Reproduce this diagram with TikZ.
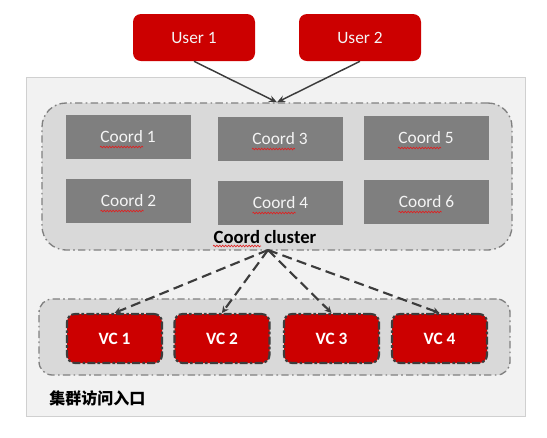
\documentclass[tikz,border=0pt]{standalone}
\usepackage{fontspec}
\setmainfont{Carlito}
\newfontfamily\cjk{Noto Sans CJK SC}
\usepackage{xcolor}
\usepackage{tikz}
\usetikzlibrary{arrows.meta, positioning, decorations.pathmorphing}

\definecolor{userred}{HTML}{CC0000}
\definecolor{coordgray}{HTML}{7F7F7F}
\definecolor{groupfill}{HTML}{D9D9D9}
\definecolor{groupline}{HTML}{808080}
\definecolor{framefill}{HTML}{F2F2F2}
\definecolor{frameline}{HTML}{D0D0D0}
\definecolor{darkline}{HTML}{3C3C3C}
\definecolor{paletext}{HTML}{F4F4F4}
\definecolor{wavered}{HTML}{E02020}

\tikzset{
  userbox/.style={fill=userred, rounded corners=6pt, minimum width=91.5pt, minimum height=35.25pt, inner sep=0pt, text=paletext, font=\fontsize{13}{15}\selectfont},
  coordbox/.style={fill=coordgray, minimum width=93.75pt, minimum height=33pt, inner sep=0pt, text=paletext, font=\fontsize{13}{15}\selectfont},
  vcbox/.style={fill=userred, draw=darkline, line width=1.6pt, dash pattern=on 6pt off 1.6pt on 2pt off 1.6pt, rounded corners=6pt, minimum width=71.25pt, minimum height=36.75pt, inner sep=0pt, text=white, font=\bfseries\fontsize{13}{15}\selectfont},
  groupbox/.style={fill=groupfill, draw=groupline, line width=1pt, dash pattern=on 5.5pt off 2.5pt on 1.2pt off 2.5pt, inner sep=0pt},
  userlink/.style={draw=darkline, line width=1.1pt, -{Stealth[length=6pt,width=5pt]}},
  vclink/.style={draw=darkline, line width=1.6pt, dash pattern=on 7.5pt off 4pt, -{Stealth[length=5pt,width=5pt]}},
  spellwave/.style={draw=wavered, line width=0.5pt, decorate, decoration={snake, amplitude=0.6pt, segment length=2.2pt}},
}

\begin{document}
\begin{tikzpicture}[x=0.75pt,y=0.75pt,yscale=-1,xscale=1]
\useasboundingbox (0,0) rectangle (547,437);

%Shape: Rectangle [id:frame]
\node[fill=framefill, draw=frameline, line width=0.6pt, minimum width=374.25pt, minimum height=254.25pt, inner sep=0pt] (frame) at (275.5,246.5) {};

%Shape: Rounded Rect [id:cluster]
\node[groupbox, rounded corners=18pt, minimum width=352.5pt, minimum height=110.25pt] (cluster) at (277,176.5) {};
%Shape: Rounded Rect [id:vcgroup]
\node[groupbox, rounded corners=10pt, minimum width=353.25pt, minimum height=57pt] (vcgroup) at (274.5,337) {};

%Shape: Users
\node[userbox] (user1) at (194,37.5) {User 1};
\node[userbox] (user2) at (360,37.5) {User 2};

%Shape: Coord boxes
\node[coordbox] (coord1) at (128,137) {Coord 1};
\node[coordbox] (coord2) at (128.5,201) {Coord 2};
\node[coordbox] (coord3) at (280,139) {Coord 3};
\node[coordbox] (coord4) at (280.5,203) {Coord 4};
\node[coordbox] (coord5) at (426,138) {Coord 5};
\node[coordbox] (coord6) at (426.5,202) {Coord 6};

% Text Node
\node[inner sep=0pt, font=\bfseries\fontsize{14}{16}\selectfont] (clustername) at (265,237) {Coord cluster};

%Spell-check waves
\foreach \c in {1,...,6}
  \draw[spellwave] ([shift={(-28,10)}]coord\c.center) -- ([shift={(15,10)}]coord\c.center);
\draw[spellwave] ([shift={(-52,9)}]clustername.center) -- ([shift={(-4,9)}]clustername.center);

%Shape: VC boxes
\node[vcbox] (vc1) at (114.5,338.5) {VC 1};
\node[vcbox] (vc2) at (222,338.5) {VC 2};
\node[vcbox] (vc3) at (331.5,338.5) {VC 3};
\node[vcbox] (vc4) at (439.5,338.5) {VC 4};

% Text Node
\node[anchor=west, inner sep=0pt, font=\cjk\bfseries\fontsize{12}{14}\selectfont] (entry) at (49,398) {集群访问入口};

%Straight Lines
\draw[userlink] (user1.south) -- (cluster.north);
\draw[userlink] (user2.south) -- (cluster.north);

%Dashed Lines
\coordinate (hub) at (268,250);
\foreach \v in {1,...,4}
  \draw[vclink] (hub) -- (vc\v.north);

\end{tikzpicture}
\end{document}
